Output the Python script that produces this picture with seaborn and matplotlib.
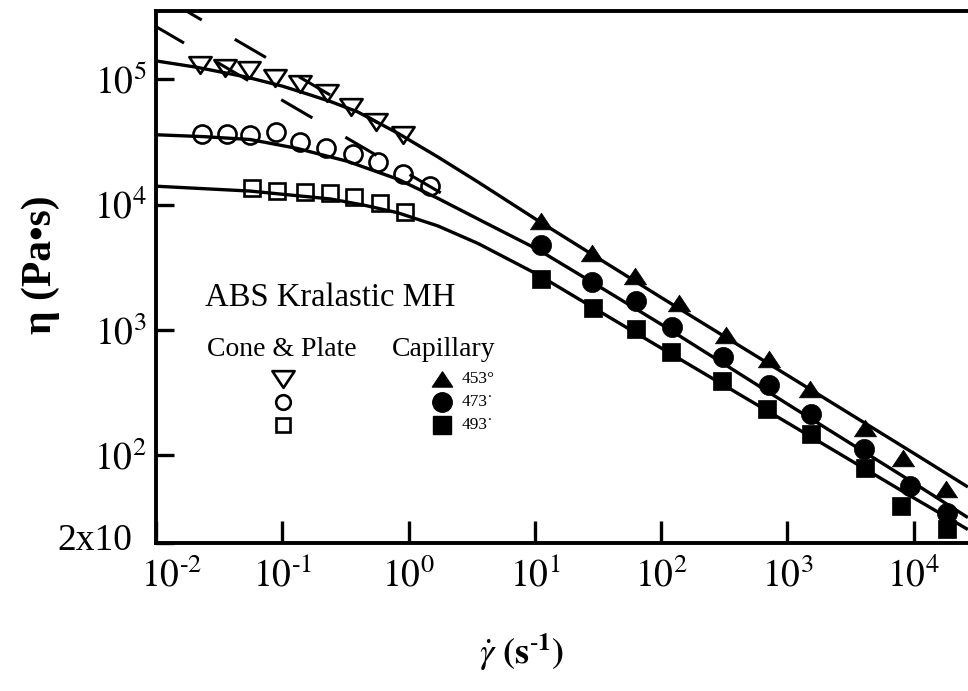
import matplotlib
matplotlib.use("Agg")
import matplotlib.pyplot as plt
import seaborn as sns
from matplotlib.path import Path
from matplotlib.transforms import ScaledTranslation

# ---------------- data ----------------
# Cone & plate (open symbols)
cp_rate_453 = [0.0223, 0.0352, 0.0547, 0.0879, 0.139, 0.228, 0.348, 0.548, 0.900]
cp_eta_453 = [128800, 122200, 117800, 101800, 91400, 77600, 60100, 45800, 36100]
cp_rate_473 = [0.0231, 0.0366, 0.0557, 0.0895, 0.139, 0.220, 0.366, 0.569, 0.900, 1.476]
cp_eta_473 = [36800, 36800, 36100, 38200, 31300, 28500, 25100, 21700, 17500, 14100]
cp_rate_493 = [0.0578, 0.0912, 0.150, 0.237, 0.373, 0.590, 0.933]
cp_eta_493 = [13550, 12830, 12590, 12360, 11510, 10300, 8750]

# Capillary (filled symbols)
cap_rate_453 = [11.2, 28.1, 61.7, 138, 327, 716, 1517, 4083, 8185, 17950]
cap_eta_453 = [7430, 4080, 2690, 1640, 904, 583, 339, 164, 94.8, 54.0]
cap_rate_473 = [11.2, 28.6, 62.8, 121, 309, 716, 1545, 4010, 9310, 18280]
cap_eta_473 = [4720, 2410, 1710, 1064, 605, 364, 215, 112, 57.0, 34.9]
cap_rate_493 = [11.2, 29.1, 62.8, 119, 303, 692, 1545, 4083, 7890, 18280]
cap_eta_493 = [2550, 1500, 1010, 664, 392, 236, 149, 79.1, 39.6, 26.1]

# Solid model curves
fit_rate_453 = [0.00944, 0.02109, 0.05272, 0.1000, 0.1581, 0.2410, 0.3945, 0.8204,
                1.706, 3.548, 10.64, 101.2, 995.4, 10000, 26850]
fit_eta_453 = [141250, 124450, 103750, 88100, 76210, 66370, 54950, 37150,
               23990, 15140, 7430, 1803, 436.5, 104.0, 55.98]
fit_rate_473 = [0.00944, 0.02399, 0.05572, 0.1315, 0.3289, 0.8204, 1.706, 3.548,
                10.64, 31.92, 101.2, 995.4, 10000, 26850]
fit_eta_473 = [36140, 34830, 33040, 28050, 22130, 15960, 11220, 7674,
               4365, 2239, 1102, 257.6, 60.26, 31.92]
fit_rate_493 = [0.00944, 0.05572, 0.2410, 0.4467, 0.8204, 1.706, 3.548, 10.64, 31.92,
                101.2, 995.4, 10000, 26850]
fit_eta_493 = [14060, 12820, 11090, 9886, 8610, 6761, 4898, 2754, 1422,
               712.9, 182.4, 45.81, 25.64]

# Dashed power-law lines
dash_rate_a = [0.00944, 1.871]
dash_eta_a = [271600, 12130]
dash_rate_b = [0.00944, 0.569]
dash_eta_b = [501200, 45000]

x_ticks = [1e-2, 1e-1, 1e0, 1e1, 1e2, 1e3, 1e4]
x_ticklabels = [r"$10^{\text{-}2}$", r"$10^{\text{-}1}$", r"$10^{0}$", r"$10^{1}$",
                r"$10^{2}$", r"$10^{3}$", r"$10^{4}$"]
y_ticks = [20, 1e2, 1e3, 1e4, 1e5]
y_ticklabels = ["2x10", r"$10^{2}$", r"$10^{3}$", r"$10^{4}$", r"$10^{5}$"]

legend_title = "ABS Kralastic MH"
legend_cp = "Cone & Plate"
legend_cap = "Capillary"
temp_labels = ["453°", "473˙", "493˙"]

# ---------------- style ----------------
sns.set_theme(style="ticks")
plt.rcParams["font.family"] = ["Liberation Serif", "DejaVu Serif"]
plt.rcParams["mathtext.fontset"] = "stix"
plt.rcParams["lines.scale_dashes"] = False
for key in ["text.color", "axes.edgecolor", "axes.labelcolor", "xtick.color", "ytick.color"]:
    plt.rcParams[key] = "black"

W, H = 968, 691
fig = plt.figure(figsize=(W / 100, H / 100), dpi=100)
AX_L, AX_R, AX_T, AX_B = 156, 968, 11, 543
ax = fig.add_axes([AX_L / W, 1 - AX_B / H, (AX_R - AX_L) / W, (AX_B - AX_T) / H])
ax.set_xscale("log")
ax.set_yscale("log")
ax.set_xlim(1e-2, 10 ** 4.43)
ax.set_ylim(20, 3.5e5)

tri_up = Path([(-1, -0.75), (1, -0.75), (0, 0.75), (-1, -0.75)], closed=True)
tri_dn = Path([(-1, 0.75), (1, 0.75), (0, -0.75), (-1, 0.75)], closed=True)

common = dict(ax=ax, estimator=None, sort=False, errorbar=None, color="black")

# solid curves
for xs, ys in [(fit_rate_453, fit_eta_453), (fit_rate_473, fit_eta_473),
               (fit_rate_493, fit_eta_493)]:
    sns.lineplot(x=xs, y=ys, linewidth=2.4, solid_capstyle="butt",
                 solid_joinstyle="round", **common)

# dashed lines
sns.lineplot(x=dash_rate_a, y=dash_eta_a, linewidth=2.2,
             linestyle=(0, (26, 27.5)), dash_capstyle="butt", **common)
sns.lineplot(x=dash_rate_b, y=dash_eta_b, linewidth=2.2,
             linestyle=(49.5, (26, 27.5)), dash_capstyle="butt", **common)

# open symbols (cone & plate)
open_kw = dict(linestyle="", markerfacecolor="none", markeredgecolor="black",
               markeredgewidth=1.9)
sns.lineplot(x=cp_rate_453, y=cp_eta_453, marker=tri_dn, markersize=16, **open_kw, **common)
sns.lineplot(x=cp_rate_473, y=cp_eta_473, marker="o", markersize=13, **open_kw, **common)
sns.lineplot(x=cp_rate_493, y=cp_eta_493, marker="s", markersize=11.5, **open_kw, **common)

# filled symbols (capillary)
fill_kw = dict(linestyle="", markerfacecolor="black", markeredgecolor="black",
               markeredgewidth=0.5)
sns.lineplot(x=cap_rate_453, y=cap_eta_453, marker=tri_up, markersize=16, **fill_kw, **common)
sns.lineplot(x=cap_rate_473, y=cap_eta_473, marker="o", markersize=14.5, **fill_kw, **common)
sns.lineplot(x=cap_rate_493, y=cap_eta_493, marker="s", markersize=13.5, **fill_kw, **common)

# ---------------- axes styling ----------------
ax.set_xticks(x_ticks)
ax.set_xticklabels(x_ticklabels)
ax.set_yticks(y_ticks)
ax.set_yticklabels(y_ticklabels)
ax.minorticks_off()
ax.tick_params(axis="x", which="major", direction="in", length=16, width=2.4,
               labelsize=27, pad=11, top=False)
ax.tick_params(axis="y", which="major", direction="in", length=13, width=2.4,
               labelsize=27, pad=7, right=False)
for s in ["left", "bottom", "top"]:
    ax.spines[s].set_linewidth(2.8)
    ax.spines[s].set_color("black")
ax.spines["right"].set_visible(False)
ax.grid(False)

# nudge the two corner labels as in the reference
lab_x0 = ax.xaxis.get_major_ticks()[0].label1
lab_x0.set_transform(lab_x0.get_transform() + ScaledTranslation(0.16, 0, fig.dpi_scale_trans))
lab_y0 = ax.yaxis.get_major_ticks()[0].label1
lab_y0.set_transform(lab_y0.get_transform() + ScaledTranslation(-0.14, 0.06, fig.dpi_scale_trans))


def fx(px):
    return (px - AX_L) / (AX_R - AX_L)


def fy(py):
    return (AX_B - py) / (AX_B - AX_T)


ax.set_ylabel("η (Pa•s)", fontsize=30, fontweight="bold")
ax.yaxis.label.set(va="center", ha="center", rotation_mode="default")
ax.yaxis.set_label_coords(fx(41), fy(265))
ax.set_xlabel(r"$\dot{\gamma}\ \mathbf{(s^{\text{-}1})}$", fontsize=26)
ax.xaxis.label.set(va="center", ha="center")
ax.xaxis.set_label_coords(fx(522), fy(652))

# ---------------- in-plot legend ----------------
ax.text(fx(205), fy(298), legend_title, transform=ax.transAxes, fontsize=23.5,
        ha="left", va="center")
ax.text(fx(207), fy(349), legend_cp, transform=ax.transAxes, fontsize=20,
        ha="left", va="center")
ax.text(fx(392), fy(349), legend_cap, transform=ax.transAxes, fontsize=20,
        ha="left", va="center")

leg_y = [379, 402, 425]
open_markers = [(tri_dn, 16), ("o", 10.5), ("s", 10.5)]
fill_markers = [(tri_up, 14.5), ("o", 14), ("s", 13.5)]
for yy, (m, ms) in zip(leg_y, open_markers):
    ax.plot([fx(283)], [fy(yy)], transform=ax.transAxes, marker=m, markersize=ms,
            markerfacecolor="none", markeredgecolor="black", markeredgewidth=1.9,
            linestyle="", clip_on=False)
for yy, (m, ms), lab in zip(leg_y, fill_markers, temp_labels):
    ax.plot([fx(442)], [fy(yy)], transform=ax.transAxes, marker=m, markersize=ms,
            markerfacecolor="black", markeredgecolor="black", linestyle="", clip_on=False)
    ax.text(fx(462), fy(yy), lab, transform=ax.transAxes, fontsize=12.5,
            ha="left", va="center")

fig.savefig("out.png", dpi=100, facecolor="white")
